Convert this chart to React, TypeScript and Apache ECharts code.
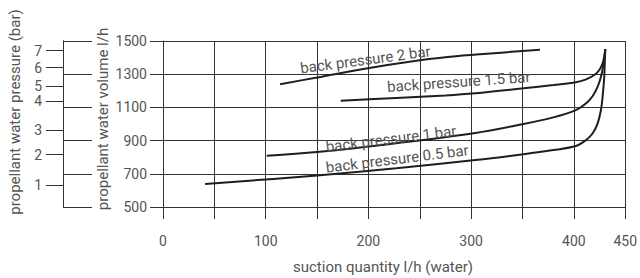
import React, { useEffect, useRef } from "react";
import * as echarts from "echarts";

const xLabelValues = [0, 100, 200, 300, 400, 450];
const volumeLabelValues = [500, 700, 900, 1100, 1300, 1500];
const pressureLabels = [1, 2, 3, 4, 5, 6, 7];
// volume (l/h) at which each pressure tick sits on the pressure scale
const pressureAtVolume = [630, 816, 964, 1136, 1229, 1339, 1442];

const bp2: [number, number][] = [
  [114, 1240], [150, 1280], [198, 1335], [245, 1380], [275, 1402], [305, 1418], [367, 1448],
];
const bp15: [number, number][] = [
  [173, 1140], [227, 1157], [275, 1172], [304, 1185], [351, 1215], [380, 1235], [402, 1251],
  [412, 1269], [420, 1295], [424.8, 1325], [428, 1366], [429.6, 1405], [430.6, 1450],
];
const bp1: [number, number][] = [
  [101, 809], [150, 831], [227, 884], [304, 946], [351, 1000], [380, 1040], [402, 1084],
  [412, 1125], [418.4, 1169], [423.2, 1225], [426.4, 1285], [428.7, 1355], [430.6, 1450],
];
const bp05: [number, number][] = [
  [41, 639], [150, 690], [227, 733], [304, 783], [351, 818], [380, 843], [402, 867],
  [412, 904], [418.4, 944], [423.2, 1004], [426.4, 1084], [428, 1164], [429.6, 1285],
  [430.2, 1386], [430.6, 1450],
];

const curveLabels = [
  { name: "back pressure 2 bar", coord: [197, 1386], rotate: 7.5 },
  { name: "back pressure 1.5 bar", coord: [288, 1253], rotate: 4 },
  { name: "back pressure 1 bar", coord: [222, 910], rotate: 7 },
  { name: "back pressure 0.5 bar", coord: [228, 789], rotate: 7 },
];

const FONT = "Roboto, 'Noto Sans', sans-serif";
const TEXT = "#555";
const LINE = "#333";
const CURVE = "#1e1e1e";

export default function App() {
  const ref = useRef<HTMLDivElement>(null);
  useEffect(() => {
    if (!ref.current) return;
    const chart = echarts.init(ref.current, undefined, { renderer: "svg" });
    const seriesData = [bp2, bp15, bp1, bp05];
    const series: any[] = seriesData.map((d, i) => ({
      type: "line",
      data: d,
      showSymbol: false,
      smooth: 0.35,
      lineStyle: { color: CURVE, width: 2 },
      xAxisIndex: 0,
      yAxisIndex: 0,
      markPoint: {
        symbol: "circle",
        symbolSize: 0,
        silent: true,
        label: {
          show: true,
          position: "inside",
          rotate: curveLabels[i].rotate,
          color: TEXT,
          fontSize: 15,
          fontFamily: FONT,
          formatter: curveLabels[i].name,
        },
        data: [{ coord: curveLabels[i].coord, value: curveLabels[i].name }],
      },
    }));
    chart.setOption({
      animation: false,
      grid: { left: 163, right: 7, top: 41, bottom: 71, containLabel: false },
      xAxis: {
        type: "value",
        min: 0,
        max: 450,
        interval: 50,
        axisLine: { show: true, lineStyle: { color: LINE, width: 1 } },
        axisTick: { show: true, length: 12, lineStyle: { color: LINE } },
        axisLabel: {
          customValues: xLabelValues,
          color: TEXT,
          fontSize: 14,
          fontFamily: FONT,
          margin: 27,
          formatter: (v: number) => String(v),
        },
        splitLine: { show: true, lineStyle: { color: LINE, width: 1 } },
      },
      yAxis: [
        {
          type: "value",
          position: "left",
          min: 500,
          max: 1500,
          interval: 100,
          axisLine: { show: true, lineStyle: { color: LINE, width: 1 } },
          axisTick: { show: true, customValues: volumeLabelValues, length: 13, lineStyle: { color: LINE } },
          axisLabel: {
            customValues: volumeLabelValues,
            color: TEXT,
            fontSize: 14,
            fontFamily: FONT,
            margin: 16,
            formatter: (v: number) => String(v),
          },
          splitLine: { show: true, lineStyle: { color: LINE, width: 1 } },
        },
        {
          type: "value",
          position: "left",
          offset: 100,
          min: 500,
          max: 1500,
          axisLine: { show: true, lineStyle: { color: LINE, width: 1 } },
          axisTick: { show: true, customValues: pressureAtVolume, length: 17, lineStyle: { color: LINE } },
          axisLabel: {
            customValues: pressureAtVolume,
            color: TEXT,
            fontSize: 14,
            fontFamily: FONT,
            margin: 21,
            formatter: (v: number) => {
              const idx = pressureAtVolume.indexOf(v);
              return idx >= 0 ? String(pressureLabels[idx]) : "";
            },
          },
          splitLine: { show: false },
        },
        {
          type: "value",
          position: "left",
          offset: 100,
          min: 500,
          max: 1500,
          axisLine: { show: true, lineStyle: { color: LINE, width: 1 } },
          axisTick: { show: true, inside: true, customValues: volumeLabelValues, length: 29, lineStyle: { color: LINE } },
          axisLabel: { show: false },
          splitLine: { show: false },
        },
      ],
      graphic: [
        {
          type: "text",
          x: 15,
          y: 112,
          rotation: Math.PI / 2,
          style: { text: "propellant water pressure (bar)", fill: TEXT, fontSize: 15, fontFamily: FONT, align: "center", verticalAlign: "middle" },
        },
        {
          type: "text",
          x: 103,
          y: 119,
          rotation: Math.PI / 2,
          style: { text: "propellant water volume l/h", fill: TEXT, fontSize: 15, fontFamily: FONT, align: "center", verticalAlign: "middle" },
        },
        {
          type: "text",
          x: 383,
          y: 267,
          style: { text: "suction quantity l/h (water)", fill: TEXT, fontSize: 15, fontFamily: FONT, align: "center", verticalAlign: "middle" },
        },
      ],
      series,
    });
    return () => chart.dispose();
  }, []);
  return <div ref={ref} style={{ position: "fixed", left: 0, top: 0, width: 640, height: 278, background: "#fff" }} />;
}
